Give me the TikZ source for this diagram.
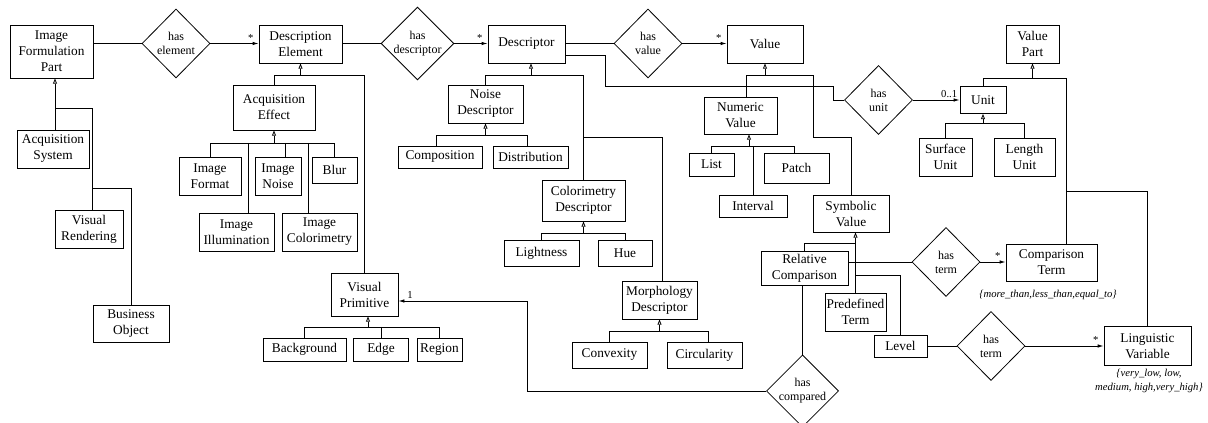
\documentclass[tikz,border=0pt]{standalone}
\usepackage{fontspec}
\setmainfont{Liberation Serif}
\usetikzlibrary{shapes.geometric,arrows.meta}

\begin{document}
\begin{tikzpicture}[x=0.75pt,y=-0.75pt,line width=0.6pt,
  cls/.style 2 args={draw,align=center,inner sep=1pt,font=\fontsize{10}{12}\selectfont,minimum width=#1*0.75pt,minimum height=#2*0.75pt},
  rel/.style={draw,diamond,align=center,inner sep=0pt,font=\fontsize{9}{10.5}\selectfont,minimum width=68*0.75pt,minimum height=69*0.75pt},
  assoc/.style={-{Latex[length=4.5pt,width=2.6pt]}},
  gen/.style={-{Triangle[open,length=4pt,width=3pt]}},
  mult/.style={inner sep=1.5pt,font=\fontsize{8}{9}\selectfont},
  note/.style={align=center,font=\fontsize{8}{10}\selectfont\itshape}]
\useasboundingbox (0,0) rectangle (1208,423);

\node[cls={83}{53}] (ifp) at (51.5,51.5) {Image\\Formulation\\Part};
\node[cls={72}{38}] (acqsys) at (53,149) {Acquisition\\System};
\node[cls={68}{38}] (visrend) at (89,229) {Visual\\Rendering};
\node[cls={76}{37}] (busobj) at (131,323.5) {Business\\Object};
\node[cls={83}{38}] (descelem) at (300.5,44) {Description\\Element};
\node[cls={82}{45}] (acqeff) at (274,107.5) {Acquisition\\Effect};
\node[cls={62}{38}] (imgfmt) at (210,176) {Image\\Format};
\node[cls={46}{38}] (imgnoise) at (278,176) {Image\\Noise};
\node[cls={45}{26}] (blur) at (334.5,170) {Blur};
\node[cls={75}{38}] (imgillum) at (236.5,232) {Image\\Illumination};
\node[cls={75}{38}] (imgcolor) at (319.5,232) {Image\\Colorimetry};
\node[cls={67}{43}] (vprim) at (364.5,294.5) {Visual\\Primitive};
\node[cls={83}{23}] (backgr) at (304.5,349.5) {Background};
\node[cls={55}{23}] (edge) at (381,349.5) {Edge};
\node[cls={45}{23}] (region) at (439.5,349.5) {Region};
\node[cls={77}{38}] (descr) at (526.5,44) {Descriptor};
\node[cls={75}{38}] (noisedesc) at (485.5,104) {Noise\\Descriptor};
\node[cls={84}{22}] (compos) at (440,157) {Composition};
\node[cls={75}{22}] (distrib) at (530.5,157) {Distribution};
\node[cls={83}{41}] (colordesc) at (583.5,200.5) {Colorimetry\\Descriptor};
\node[cls={75}{26}] (light) at (541.5,253) {Lightness};
\node[cls={54}{26}] (hue) at (625,253) {Hue};
\node[cls={75}{38}] (morph) at (659.5,300) {Morphology\\Descriptor};
\node[cls={75}{26}] (convex) at (609.5,355) {Convexity};
\node[cls={75}{26}] (circ) at (704.5,355) {Circularity};
\node[cls={76}{38}] (value) at (765,44) {Value};
\node[cls={73}{37}] (numval) at (740.5,115.5) {Numeric\\Value};
\node[cls={45}{23}] (list) at (711.5,164.5) {List};
\node[cls={65}{30}] (patch) at (796.5,168) {Patch};
\node[cls={68}{22}] (interval) at (753,206) {Interval};
\node[cls={76}{37}] (symval) at (851,213.5) {Symbolic\\Value};
\node[cls={87}{34}] (relcomp) at (804.5,268) {Relative\\Comparison};
\node[cls={61}{38}] (predef) at (855.5,312) {Predefined\\Term};
\node[cls={53}{22}] (level) at (900.5,346) {Level};
\node[cls={53}{38}] (valpart) at (1032.5,44) {Value\\Part};
\node[cls={46}{27}] (unit) at (983,100) {Unit};
\node[cls={53}{38}] (surfunit) at (945.5,157) {Surface\\Unit};
\node[cls={61}{38}] (lenunit) at (1024.5,157) {Length\\Unit};
\node[cls={91}{37}] (compterm) at (1051.5,262.5) {Comparison\\Term};
\node[cls={87}{39}] (lingvar) at (1147.5,346) {Linguistic\\Variable};

\node[rel] (haselem) at (176,43.5) {has\\element};
\node[rel] (hasdesc) at (417.5,43.5) {has\\descriptor};
\node[rel] (hasval) at (648,43.5) {has\\value};
\node[rel] (hasunit) at (878.5,100) {has\\unit};
\node[rel] (hascomp) at (802.5,391) {has\\compared};
\node[rel] (hasterm) at (946,262) {has\\term};
\node[rel] (hasterm2) at (991,346) {has\\term};

\node[note] (ctvals) at (1048,295) {\{more\_than,less\_than,equal\_to\}};
\node[note] (lvvals) at (1149,381) {\{very\_low, low,\\medium, high,very\_high\}};

\draw (ifp.east |- haselem.west) -- (haselem.west);
\draw[assoc] (haselem.east) -- (descelem.west |- haselem.east) node[mult,pos=1,above left,xshift=-2pt] (m1) {*};
\draw (descelem.east |- hasdesc.west) -- (hasdesc.west);
\draw[assoc] (hasdesc.east) -- (descr.west |- hasdesc.east) node[mult,pos=1,above left,xshift=-2pt] (m2) {*};
\draw (descr.east |- hasval.west) -- (hasval.west);
\draw[assoc] (hasval.east) -- (value.west |- hasval.east) node[mult,pos=1,above left,xshift=-2pt] (m3) {*};
\draw (descr.east |- 0,55) -- (605,55) -- (605,86) -- (833,86) -- (833,100) -- (hasunit.west);
\draw[assoc] (hasunit.east) -- (unit.west) node[mult,pos=1,above left] (m4) {0..1};
\draw (relcomp.east |- hasterm.west) -- (hasterm.west);
\draw[assoc] (hasterm.east) -- (compterm.west |- hasterm.east) node[mult,pos=1,above left,xshift=-2pt] (m5) {*};
\draw (level.east) -- (hasterm2.west);
\draw[assoc] (hasterm2.east) -- (lingvar.west) node[mult,pos=1,above left,xshift=-2pt] (m6) {*};
\draw (relcomp.south -| hascomp.north) -- (hascomp.north);
\draw[assoc] (hascomp.west) -| (527,301) -- (vprim.east |- 0,301) node[mult,pos=1,above right,xshift=5pt] (m7) {1};

\draw[gen] (acqsys.north -| 55,0) -- (ifp.south -| 55,0);
\draw (55,108) -- (92,108) -- (visrend.north -| 92,0);
\draw (92,188) -| (busobj.north);

\draw[gen] (descelem.south |- 0,75) -- (descelem.south);
\draw (acqeff.north) |- (vprim.north |- 0,75) -- (vprim.north);
\draw[gen] (acqeff.south |- 0,143) -- (acqeff.south);
\draw (imgfmt.north) |- (blur.north |- 0,143) -- (blur.north);
\draw (248,143) -- (imgillum.north -| 248,0);
\draw (285,143) -- (imgnoise.north -| 285,0);
\draw (308,143) -- (imgcolor.north -| 308,0);
\draw[gen] (368,327) -- (vprim.south -| 368,0);
\draw (backgr.north) |- (region.north |- 0,327) -- (region.north);
\draw (edge.north |- 0,327) -- (edge.north);

\draw[gen] (531,75) -- (descr.south -| 531,0);
\draw (noisedesc.north) |- (colordesc.north |- 0,75) -- (colordesc.north);
\draw (colordesc.north |- 0,137) -- (662,137) -- (morph.north -| 662,0);
\draw[gen] (noisedesc.south |- 0,135) -- (noisedesc.south);
\draw (compos.north -| 436,0) |- (527,135) -- (distrib.north -| 527,0);
\draw[gen] (colordesc.south |- 0,233) -- (colordesc.south);
\draw (light.north) |- (hue.north |- 0,233) -- (hue.north);
\draw[gen] (morph.south |- 0,331) -- (morph.south);
\draw (convex.north) |- (708,331) -- (circ.north -| 708,0);

\draw[gen] (value.south |- 0,75) -- (value.south);
\draw (numval.north -| 746,0) |- (813,75) -- (813,137) -| (symval.north);
\draw[gen] (749,146) -- (numval.south -| 749,0);
\draw (list.north) |- (794,146) -- (patch.north -| 794,0);
\draw (interval.north) -- (interval.north |- 0,146);
\draw[gen] (predef.north) -- (symval.south -| predef.north);
\draw (relcomp.north) |- (855,243);
\draw (855,275) -| (level.north);

\draw[gen] (valpart.south |- 0,78) -- (valpart.south);
\draw (unit.north) |- (1066,78) -- (compterm.north -| 1066,0);
\draw (1066,191) -| (lingvar.north);
\draw[gen] (unit.south |- 0,123) -- (unit.south);
\draw (surfunit.north) |- (lenunit.north |- 0,123) -- (lenunit.north);
\end{tikzpicture}
\end{document}
